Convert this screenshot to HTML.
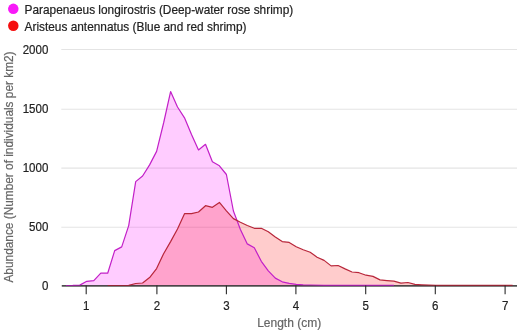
<!DOCTYPE html>
<html><head><meta charset="utf-8"><title>Chart</title>
<style>
html,body{margin:0;padding:0;background:#fff;}
body{width:520px;height:334px;overflow:hidden;font-family:"Liberation Sans",Arial,sans-serif;}
svg{display:block;font-family:"Liberation Sans",Arial,sans-serif;}
</style></head><body>
<svg width="520" height="334" viewBox="0 0 520 334">
<rect width="520" height="334" fill="#fff"/>
<circle cx="13.3" cy="8.85" r="5.25" fill="#f81af8"/>
<circle cx="13.3" cy="25.75" r="5.25" fill="#f50f0f"/>
<text x="24.6" y="13.5" font-size="11.85" fill="#222" stroke="#222" stroke-width="0.2">Parapenaeus longirostris (Deep-water rose shrimp)</text>
<text x="24.6" y="30.5" font-size="11.85" fill="#222" stroke="#222" stroke-width="0.2">Aristeus antennatus (Blue and red shrimp)</text>
<line x1="61.3" x2="517" y1="49.5" y2="49.5" stroke="#e4e4e4" stroke-width="1.1"/><line x1="61.3" x2="517" y1="109.25" y2="109.25" stroke="#e4e4e4" stroke-width="1.1"/><line x1="61.3" x2="517" y1="168.1" y2="168.1" stroke="#e4e4e4" stroke-width="1.1"/><line x1="61.3" x2="517" y1="227.25" y2="227.25" stroke="#e4e4e4" stroke-width="1.1"/>
<text transform="translate(48.3,54.4) scale(0.96,1)" text-anchor="end" font-size="12" fill="#222" stroke="#222" stroke-width="0.2">2000</text><text transform="translate(48.3,113.4) scale(0.96,1)" text-anchor="end" font-size="12" fill="#222" stroke="#222" stroke-width="0.2">1500</text><text transform="translate(48.3,172.4) scale(0.96,1)" text-anchor="end" font-size="12" fill="#222" stroke="#222" stroke-width="0.2">1000</text><text transform="translate(48.3,231.0) scale(0.96,1)" text-anchor="end" font-size="12" fill="#222" stroke="#222" stroke-width="0.2">500</text><text transform="translate(48.3,290.3) scale(0.96,1)" text-anchor="end" font-size="12" fill="#222" stroke="#222" stroke-width="0.2">0</text>
<text transform="translate(12.5,167.0) rotate(-90)" text-anchor="middle" font-size="11.85" fill="#666" stroke="#666" stroke-width="0.2">Abundance (Number of individuals per km2)</text>
<path d="M65.9,285.5 L72.8,285.4 L79.8,285.1 L86.8,281.3 L93.8,280.7 L100.8,273.2 L107.7,273.2 L114.7,250.6 L121.7,246.9 L128.7,225.6 L135.7,181.6 L142.6,176.0 L149.6,164.9 L156.6,151.4 L163.6,123.0 L170.6,91.6 L177.5,107.0 L184.5,117.8 L191.5,134.4 L198.5,150.0 L205.5,144.3 L212.4,161.8 L219.4,165.8 L226.4,174.5 L233.4,211.0 L240.4,229.5 L247.3,243.9 L254.3,247.7 L261.3,261.3 L268.3,270.8 L275.3,278.1 L282.2,281.8 L289.2,283.4 L296.2,284.3 L303.2,284.9 L310.2,285.0 L324.1,285.3 L393.9,285.4 L393.9,285.6 L65.9,285.6 Z" fill="#ff00ff" fill-opacity="0.2"/>
<path d="M107.7,285.5 L121.7,285.5 L128.7,285.3 L135.7,283.5 L142.6,283.0 L149.6,277.6 L156.6,268.6 L163.6,253.7 L170.6,241.6 L177.5,229.0 L184.5,213.7 L191.5,213.6 L198.5,212.0 L205.5,205.7 L212.4,207.3 L219.4,202.4 L226.4,210.8 L233.4,218.6 L240.4,222.3 L247.3,225.5 L254.3,228.3 L261.3,228.3 L268.3,231.8 L275.3,236.9 L282.2,241.6 L289.2,242.4 L296.2,246.7 L303.2,249.7 L310.2,252.2 L317.1,257.2 L324.1,260.4 L331.1,265.9 L338.1,265.5 L345.1,268.9 L352.0,272.0 L359.0,272.7 L366.0,275.2 L373.0,276.4 L380.0,279.9 L386.9,280.6 L393.9,281.2 L400.9,283.2 L407.9,282.5 L414.9,284.4 L421.8,284.8 L428.8,285.1 L435.8,285.4 L512.6,285.4 L512.6,285.6 L107.7,285.6 Z" fill="#ff0000" fill-opacity="0.2"/>
<line x1="61.8" x2="517" y1="285.9" y2="285.9" stroke="#262626" stroke-width="1.3"/>
<path d="M65.9,285.5 L72.8,285.4 L79.8,285.1 L86.8,281.3 L93.8,280.7 L100.8,273.2 L107.7,273.2 L114.7,250.6 L121.7,246.9 L128.7,225.6 L135.7,181.6 L142.6,176.0 L149.6,164.9 L156.6,151.4 L163.6,123.0 L170.6,91.6 L177.5,107.0 L184.5,117.8 L191.5,134.4 L198.5,150.0 L205.5,144.3 L212.4,161.8 L219.4,165.8 L226.4,174.5 L233.4,211.0 L240.4,229.5 L247.3,243.9 L254.3,247.7 L261.3,261.3 L268.3,270.8 L275.3,278.1 L282.2,281.8 L289.2,283.4 L296.2,284.3 L303.2,284.9 L310.2,285.0 L324.1,285.3 L393.9,285.4" fill="none" stroke="#c21fc8" stroke-width="1.2" stroke-linejoin="round"/>
<path d="M107.7,285.5 L121.7,285.5 L128.7,285.3 L135.7,283.5 L142.6,283.0 L149.6,277.6 L156.6,268.6 L163.6,253.7 L170.6,241.6 L177.5,229.0 L184.5,213.7 L191.5,213.6 L198.5,212.0 L205.5,205.7 L212.4,207.3 L219.4,202.4 L226.4,210.8 L233.4,218.6 L240.4,222.3 L247.3,225.5 L254.3,228.3 L261.3,228.3 L268.3,231.8 L275.3,236.9 L282.2,241.6 L289.2,242.4 L296.2,246.7 L303.2,249.7 L310.2,252.2 L317.1,257.2 L324.1,260.4 L331.1,265.9 L338.1,265.5 L345.1,268.9 L352.0,272.0 L359.0,272.7 L366.0,275.2 L373.0,276.4 L380.0,279.9 L386.9,280.6 L393.9,281.2 L400.9,283.2 L407.9,282.5 L414.9,284.4 L421.8,284.8 L428.8,285.1 L435.8,285.4 L512.6,285.4" fill="none" stroke="#b8263a" stroke-width="1.2" stroke-linejoin="round"/>
<line x1="61.8" x2="517" y1="285.9" y2="285.9" stroke="#262626" stroke-width="1.3" stroke-opacity="0.35"/>
<line x1="86.20" x2="86.20" y1="285.6" y2="294.2" stroke="#2a2a2a" stroke-width="1.1"/><text transform="translate(86.20,309.7) scale(0.96,1)" text-anchor="middle" font-size="12" fill="#222" stroke="#222" stroke-width="0.2">1</text><line x1="156.90" x2="156.90" y1="285.6" y2="294.2" stroke="#2a2a2a" stroke-width="1.1"/><text transform="translate(156.90,309.7) scale(0.96,1)" text-anchor="middle" font-size="12" fill="#222" stroke="#222" stroke-width="0.2">2</text><line x1="226.40" x2="226.40" y1="285.6" y2="294.2" stroke="#2a2a2a" stroke-width="1.1"/><text transform="translate(226.40,309.7) scale(0.96,1)" text-anchor="middle" font-size="12" fill="#222" stroke="#222" stroke-width="0.2">3</text><line x1="295.90" x2="295.90" y1="285.6" y2="294.2" stroke="#2a2a2a" stroke-width="1.1"/><text transform="translate(295.90,309.7) scale(0.96,1)" text-anchor="middle" font-size="12" fill="#222" stroke="#222" stroke-width="0.2">4</text><line x1="365.70" x2="365.70" y1="285.6" y2="294.2" stroke="#2a2a2a" stroke-width="1.1"/><text transform="translate(365.70,309.7) scale(0.96,1)" text-anchor="middle" font-size="12" fill="#222" stroke="#222" stroke-width="0.2">5</text><line x1="435.30" x2="435.30" y1="285.6" y2="294.2" stroke="#2a2a2a" stroke-width="1.1"/><text transform="translate(435.30,309.7) scale(0.96,1)" text-anchor="middle" font-size="12" fill="#222" stroke="#222" stroke-width="0.2">6</text><line x1="505.10" x2="505.10" y1="285.6" y2="294.2" stroke="#2a2a2a" stroke-width="1.1"/><text transform="translate(505.10,309.7) scale(0.96,1)" text-anchor="middle" font-size="12" fill="#222" stroke="#222" stroke-width="0.2">7</text>
<text x="289.2" y="327.3" text-anchor="middle" font-size="12" fill="#666" stroke="#666" stroke-width="0.2">Length (cm)</text>
</svg>
</body></html>
